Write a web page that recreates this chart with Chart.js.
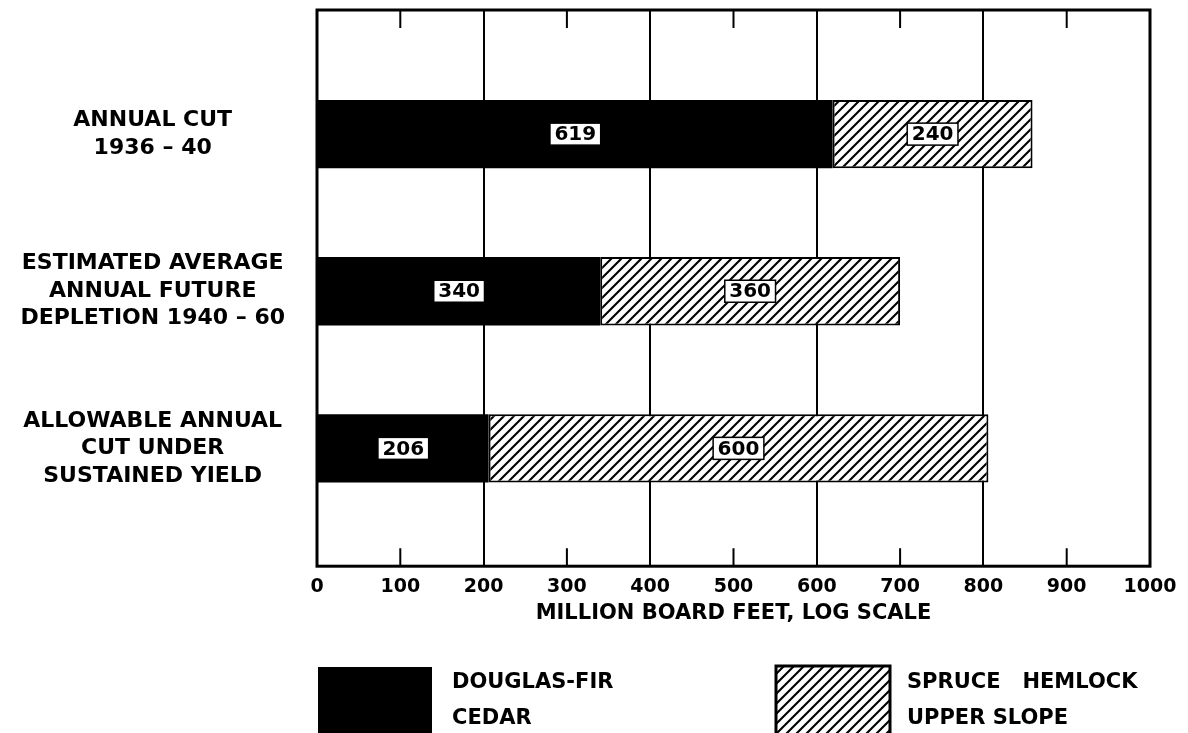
<!DOCTYPE html>
<html><head><meta charset="utf-8">
<script src="https://cdn.jsdelivr.net/npm/chart.js"></script>
<style>html,body{margin:0;padding:0;background:#fff}#wrap{width:1188px;height:733px;position:relative}</style>
</head><body><div id="wrap"><canvas id="c"></canvas></div>
<script>
// ---- data ----
const categories = [
  ['ANNUAL CUT', '1936 – 40'],
  ['ESTIMATED AVERAGE', 'ANNUAL FUTURE', 'DEPLETION 1940 – 60'],
  ['ALLOWABLE ANNUAL', 'CUT UNDER', 'SUSTAINED YIELD']
];
const douglasFirCedar = [619, 340, 206];
const spruceHemlockUpperSlope = [240, 360, 600];
const seriesLegend = [['DOUGLAS-FIR', 'CEDAR'], ['SPRUCE   HEMLOCK', 'UPPER SLOPE']];
const xMin = 0, xMax = 1000, xStep = 100;
const gridValues = [200, 400, 600, 800];
const innerTickValues = [100, 300, 500, 700, 900];
const axisTitle = 'MILLION BOARD FEET, LOG SCALE';

const FONT = "'DejaVu Sans'";

// hatch pattern
function makeHatch() {
  const s = 10;
  const c = document.createElement('canvas');
  c.width = s; c.height = s;
  const g = c.getContext('2d');
  g.fillStyle = '#fff'; g.fillRect(0, 0, s, s);
  g.strokeStyle = '#000'; g.lineWidth = 2.1; g.lineCap = 'square';
  g.beginPath();
  g.moveTo(0, s); g.lineTo(s, 0);
  g.moveTo(-2, 2); g.lineTo(2, -2);
  g.moveTo(s - 2, s + 2); g.lineTo(s + 2, s - 2);
  g.stroke();
  return g.createPattern(c, 'repeat');
}
const hatch = makeHatch();

const valueBoxes = {
  id: 'valueBoxes',
  afterDatasetsDraw(chart) {
    const ctx = chart.ctx;
    ctx.save();
    ctx.font = `bold 20px ${FONT}`;
    ctx.textAlign = 'center'; ctx.textBaseline = 'middle';
    chart.data.datasets.forEach((ds, i) => {
      const meta = chart.getDatasetMeta(i);
      meta.data.forEach((el, j) => {
        const p = el.getProps(['x', 'base', 'y'], true);
        const cx = (p.x + p.base) / 2, cy = p.y;
        const txt = String(ds.data[j].x);
        const w = ctx.measureText(txt).width + 9, h = 22;
        ctx.fillStyle = '#fff';
        ctx.fillRect(cx - w / 2, cy - h / 2, w, h);
        ctx.lineWidth = 1.5; ctx.strokeStyle = '#000';
        ctx.strokeRect(cx - w / 2, cy - h / 2, w, h);
        ctx.fillStyle = '#000';
        ctx.fillText(txt, cx, cy + 1);
      });
    });
    ctx.restore();
  }
};

const frameAndLegend = {
  id: 'frameAndLegend',
  afterDraw(chart) {
    const {ctx, chartArea: {left, top, right, bottom}, scales: {x}} = chart;
    ctx.save();
    ctx.strokeStyle = '#000';
    ctx.lineWidth = 2;
    innerTickValues.forEach(v => {
      const px = x.getPixelForValue(v);
      ctx.beginPath();
      ctx.moveTo(px, top); ctx.lineTo(px, top + 18);
      ctx.moveTo(px, bottom); ctx.lineTo(px, bottom - 18);
      ctx.stroke();
    });
    ctx.lineWidth = 3;
    ctx.strokeRect(left, top, right - left, bottom - top);

    // legend
    const boxes = [{x: 318, y: 667, tx: 452}, {x: 776, y: 666, tx: 907}];
    ctx.font = `bold 21px ${FONT}`;
    ctx.textAlign = 'left'; ctx.textBaseline = 'middle';
    chart.data.datasets.forEach((ds, i) => {
      const b = boxes[i];
      ctx.fillStyle = ds.backgroundColor;
      ctx.fillRect(b.x, b.y, 114, 80);
      if (i === 1) { ctx.lineWidth = 3; ctx.strokeRect(b.x, b.y, 114, 80); }
      ctx.fillStyle = '#000';
      seriesLegend[i].forEach((line, k) => ctx.fillText(line, b.tx, 683 + k * 36));
    });
    ctx.restore();
  }
};

const toPoints = arr => arr.map((v, i) => ({x: v, y: i}));

new Chart(document.getElementById('c'), {
  type: 'bar',
  data: {
    datasets: [
      {label: seriesLegend[0].join(' '), data: toPoints(douglasFirCedar), backgroundColor: '#000', borderColor: '#000', borderWidth: 0},
      {label: seriesLegend[1].join(' '), data: toPoints(spruceHemlockUpperSlope), backgroundColor: hatch, borderColor: '#000', borderWidth: 2, borderSkipped: false}
    ]
  },
  options: {
    indexAxis: 'y',
    responsive: true,
    maintainAspectRatio: false,
    animation: false,
    categoryPercentage: 1,
    barPercentage: 0.435,
    layout: {padding: {top: 10, right: 38, bottom: 109, left: 0}},
    plugins: {legend: {display: false}, tooltip: {enabled: false}},
    scales: {
      x: {
        type: 'linear', stacked: true, min: xMin, max: xMax,
        ticks: {stepSize: xStep, color: '#000', padding: 9, maxRotation: 0, autoSkip: false,
                callback: v => String(v),
                font: {family: FONT, size: 19, weight: 'bold', lineHeight: 1.2}},
        grid: {drawTicks: false, lineWidth: 2,
               color: c => gridValues.includes(c.tick && c.tick.value) ? '#000' : 'rgba(0,0,0,0)'},
        border: {display: false},
        title: {display: true, text: axisTitle, color: '#000', padding: {top: -4, bottom: 0},
                font: {family: FONT, size: 21, weight: 'bold', lineHeight: 1}}
      },
      y: {
        type: 'linear', stacked: true, reverse: true, offset: false, min: -0.79, max: 2.75,
        afterBuildTicks: s => { s.ticks = categories.map((_, i) => ({value: i})); },
        afterFit: s => { s.width = 317; s.paddingTop = 0; s.paddingBottom = 0; },
        ticks: {color: '#000', crossAlign: 'center', padding: 24,
                callback: (v) => categories[v],
                font: {family: FONT, size: 22, weight: 'bold', lineHeight: 1.25}},
        grid: {display: false},
        border: {display: false}
      }
    }
  },
  plugins: [valueBoxes, frameAndLegend]
});
</script></body></html>
